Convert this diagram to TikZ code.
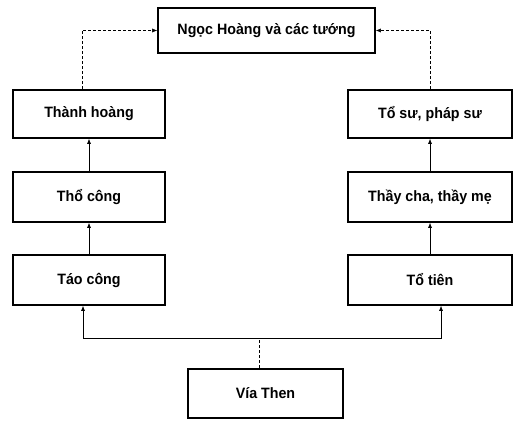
\documentclass[tikz,border=0pt]{standalone}
\usepackage{fontspec}
\setmainfont{Liberation Sans}[FakeStretch=0.95]
\usetikzlibrary{arrows.meta}
\begin{document}
\begin{tikzpicture}[x=1pt,y=1pt,
  box/.style={draw, line width=1.6pt, rectangle, inner sep=0pt, font=\bfseries\fontsize{15}{17}\selectfont},
  link/.style={line width=0.6pt, -{Latex[length=5pt,width=4pt]}},
  faint/.style={line width=0.5pt, densely dashed, -{Latex[length=5pt,width=4pt]}}]
\useasboundingbox (0,0) rectangle (518,420);
% y_tikz = 420 - y_px
\node[box, minimum width=217pt, minimum height=45pt] (top) at (266.5,389.5) {Ngọc Hoàng và các tướng};
\node[box, minimum width=152pt, minimum height=48pt] (thanh) at (89,306) {Thành hoàng};
\node[box, minimum width=152pt, minimum height=50pt] (tho) at (89,223) {Thổ công};
\node[box, minimum width=152pt, minimum height=50pt] (tao) at (89,140) {Táo công};
\node[box, minimum width=164pt, minimum height=48pt] (tosu) at (430,306) {Tổ sư, pháp sư};
\node[box, minimum width=164pt, minimum height=50pt] (thay) at (430,223) {Thầy cha, thầy mẹ};
\node[box, minimum width=164pt, minimum height=50pt] (totien) at (430,140) {Tổ tiên};
\node[box, minimum width=155pt, minimum height=49pt] (via) at (265.5,26.5) {Vía Then};
\coordinate (j) at (259,82);
% upward chains
\draw[link] (tao) -- (tho);
\draw[link] (tho) -- (thanh);
\draw[link] (totien) -- (thay);
\draw[link] (thay) -- (tosu);
% to top
\draw[faint] ([xshift=-7pt]thanh.north) |- (top.west);
\draw[faint] (tosu.north) |- (top.east);
% from Via Then
\draw[line width=0.5pt, densely dashed] (j |- via.north) -- (j);
\draw[link] (j) -| ([xshift=-6pt]tao.south);
\draw[link] (j) -| ([xshift=11pt]totien.south);
\end{tikzpicture}
\end{document}
